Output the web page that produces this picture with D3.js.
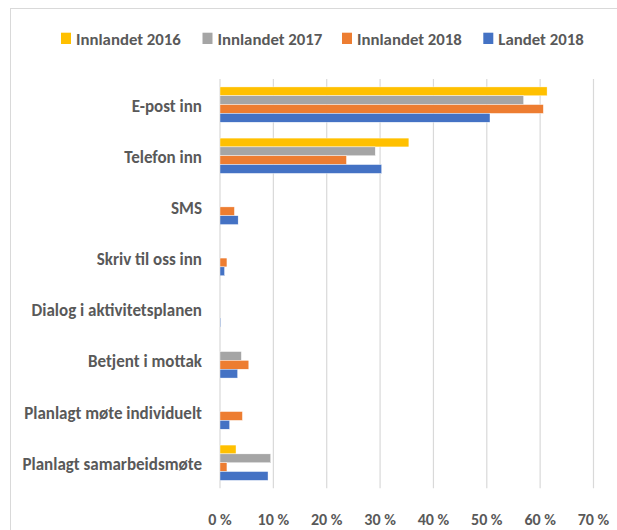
<!DOCTYPE html>
<html>
<head>
<meta charset="utf-8">
<script src="https://cdn.jsdelivr.net/npm/d3@7"></script>
<style>
  html, body { margin: 0; padding: 0; background: #fff; }
  svg { display: block; }
  text { font-family: Carlito, Lato, "Liberation Sans", sans-serif; font-weight: bold; fill: #595959; }
</style>
</head>
<body>
<svg id="chart" width="617" height="530"></svg>
<script>
const categories = [
  "E-post inn",
  "Telefon inn",
  "SMS",
  "Skriv til oss inn",
  "Dialog i aktivitetsplanen",
  "Betjent i mottak",
  "Planlagt møte individuelt",
  "Planlagt samarbeidsmøte"
];
const seriesNames = ["Innlandet 2016", "Innlandet 2017", "Innlandet 2018", "Landet 2018"];
const innlandet2016 = [61.3, 35.4, 0, 0, 0, 0, 0, 3.0];
const innlandet2017 = [56.9, 29.1, 0, 0, 0, 4.0, 0, 9.5];
const innlandet2018 = [60.6, 23.7, 2.7, 1.3, 0, 5.4, 4.2, 1.3];
const landet2018    = [50.6, 30.3, 3.4, 0.85, 0.1, 3.3, 1.8, 9.0];
const tickValues = [0, 10, 20, 30, 40, 50, 60, 70];
const colors = ["#FFC000", "#A5A5A5", "#ED7D31", "#4472C4"];

const seriesValues = [innlandet2016, innlandet2017, innlandet2018, landet2018];

const svg = d3.select("#chart");

// frame
svg.append("rect")
  .attr("x", 10.5).attr("y", 8.5)
  .attr("width", 640).attr("height", 560)
  .attr("fill", "none").attr("stroke", "#d9d9d9").attr("stroke-width", 1);

const x = d3.scaleLinear().domain([0, 70]).range([220, 593.5]);
const y = d3.scaleBand().domain(categories).range([79, 488.3]).paddingInner(0.31).paddingOuter(0.155);
const ySub = d3.scaleBand().domain(d3.range(seriesNames.length)).range([0, y.bandwidth()]);

// gridlines
svg.append("g")
  .selectAll("line")
  .data(tickValues)
  .join("line")
  .attr("x1", d => x(d)).attr("x2", d => x(d))
  .attr("y1", 79).attr("y2", 488.3)
  .attr("stroke", "#d9d9d9").attr("stroke-width", 1.2);

// bars
const groups = svg.append("g")
  .selectAll("g")
  .data(categories)
  .join("g")
  .attr("transform", d => `translate(0,${y(d)})`);

groups.selectAll("rect")
  .data((c, i) => seriesValues.map((s, k) => ({ k, v: s[i] })))
  .join("rect")
  .attr("x", x(0))
  .attr("y", d => ySub(d.k))
  .attr("width", d => Math.max(0, x(d.v) - x(0)))
  .attr("height", ySub.bandwidth())
  .attr("fill", d => colors[d.k])
  .attr("stroke", "#fff").attr("stroke-width", 0.4);

// category labels
svg.append("g")
  .selectAll("text")
  .data(categories)
  .join("text")
  .attr("x", 202)
  .attr("y", d => y(d) + y.bandwidth() / 2 + 1)
  .attr("dy", "0.35em")
  .attr("text-anchor", "end")
  .attr("font-size", 17)
  .text(d => d);

// x tick labels
svg.append("g")
  .selectAll("text")
  .data(tickValues)
  .join("text")
  .attr("x", d => x(d))
  .attr("y", 525)
  .attr("text-anchor", "middle")
  .attr("font-size", 16)
  .text(d => d + " %");

// legend
const legendX = [61, 202.5, 342, 483.3];
const leg = svg.append("g")
  .selectAll("g")
  .data(seriesNames)
  .join("g")
  .attr("transform", (d, i) => `translate(${legendX[i]},0)`);
leg.append("rect")
  .attr("x", 0).attr("y", 32.7)
  .attr("width", 10).attr("height", 11.3)
  .attr("fill", (d, i) => colors[i]);
leg.append("text")
  .attr("x", 15).attr("y", 44.7)
  .attr("font-size", 16.8)
  .text(d => d);
</script>
</body>
</html>
